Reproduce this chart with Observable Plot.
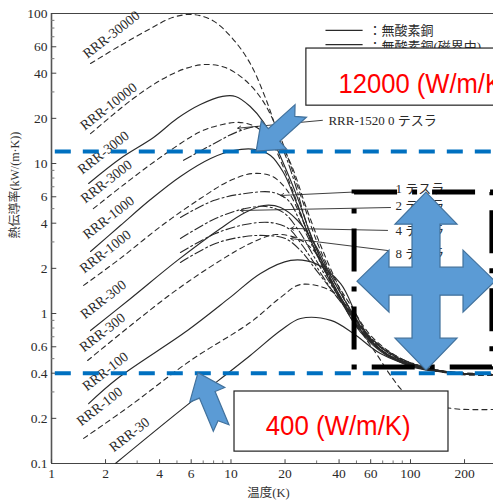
<!DOCTYPE html>
<html><head><meta charset="utf-8">
<script src="https://cdn.jsdelivr.net/npm/d3@7"></script>
<script src="https://cdn.jsdelivr.net/npm/@observablehq/plot@0.6"></script>
<style>html,body{margin:0;padding:0;background:#fff;overflow:hidden} svg{display:block}</style>
</head><body><div id="chart"></div>
<script>
// ---- tick values ----
const xTicks = [1, 2, 4, 6, 10, 20, 40, 60, 100, 200];
const yTicks = [0.1, 0.2, 0.4, 0.6, 1, 2, 4, 6, 10, 20, 40, 60, 100];
const xMinor = [3, 5, 7, 8, 9, 30, 50, 70, 80, 90];
const yMinor = [0.3, 0.5, 0.7, 0.8, 0.9, 3, 5, 7, 8, 9, 30, 50, 70, 80, 90];

// ---- curves: [temperature K, conductivity kW/(m·K)] ----
const rrr30000Dashed = [[1.65,46.4],[2.42,61.2],[3.56,79.4],[4.72,94],[6.1,98.5],[7.9,89.9],[10.2,68.1],[12.8,46.4],[15.6,27.1],[18.9,14.2],[22.3,9.0],[26,5.25],[31.6,2.84],[40.8,1.42],[52.8,0.77],[65.5,0.525],[77.5,0.386],[93.8,0.293],[121,0.255],[174,0.232],[290,0.229]];
const rrr10000Dashed = [[1.65,15.8],[2.76,26.3],[4.05,35.9],[5.58,43],[7.2,45.7],[9.3,43.6],[12.0,35.9],[15.0,26.3],[18.2,16.6],[21.5,9.7],[25,5.66],[29.9,3.07],[36.7,1.79],[46.5,1.13],[60,0.713],[82.5,0.525],[121,0.43],[190,0.392],[290,0.386]];
const rrr3000Solid = [[1.61,7.36],[2.42,10.8],[3.7,14.9],[5.03,20],[6.75,24.7],[8.97,28],[10.6,28],[12.8,24],[15.2,18.8],[17.7,13.2],[20.6,8.7],[23.8,5.66],[28.1,3.21],[34,1.94],[41.8,1.22],[54.1,0.747],[75.4,0.525],[114,0.437],[190,0.398],[290,0.392]];
const rrr3000Dashed = [[1.71,5.0],[2.58,7.36],[4.05,11.0],[6.75,16.3],[8.97,18.2],[11.0,18.8],[13.7,17.6],[16.6,14.2],[19.4,9.7],[22.6,6.1],[26.7,3.47],[32.3,2.09],[39.7,1.32],[51.3,0.794],[71.6,0.55],[111,0.443],[190,0.404],[290,0.398]];
const rrr1000Solid = [[1.65,2.59],[2.42,3.86],[3.56,5.75],[5.23,8.2],[7.7,10.8],[10.3,12.2],[13.7,12.4],[16.6,11.3],[19.6,8.7],[22.9,5.66],[27.4,3.21],[33.2,1.94],[40.8,1.22],[52.8,0.747],[73.5,0.525],[111,0.437],[190,0.398],[290,0.392]];
const rrr1000Dashed = [[1.51,1.54],[2.42,2.33],[4.05,3.8],[6.75,5.84],[9.9,7.7],[13.3,8.58],[17.0,8.2],[20.6,6.6],[24.4,4.5],[29.2,2.71],[36,1.66],[45.2,1.05],[58.3,0.69],[79.4,0.509],[121,0.43],[190,0.398],[290,0.392]];
const rrr300Solid = [[1.65,0.77],[2.76,1.26],[5.03,2.26],[8.74,3.69],[12.0,4.71],[15.2,5.25],[18.9,5.09],[23.5,4.17],[29.6,2.84],[36.7,1.71],[46.5,1.05],[58.3,0.69],[79.4,0.509],[121,0.43],[190,0.398],[290,0.392]];
const rrr300Dashed = [[1.59,0.486],[2.76,0.832],[4.91,1.42],[8.74,2.26],[12.8,2.93],[17.7,3.36],[23.5,3.16],[29.6,2.55],[37.2,1.66],[46.5,1.05],[60,0.69],[82.5,0.509],[126,0.43],[190,0.398],[290,0.392]];
const rrr100Solid = [[1.61,0.251],[2.33,0.369],[5.72,0.77],[9.9,1.28],[14.6,1.85],[21.5,2.26],[29.6,2.15],[40.8,1.58],[50.7,0.94],[62.2,0.63],[78,0.51],[104,0.437],[190,0.398],[290,0.392]];
const rrr100Dashed = [[1.51,0.147],[2.76,0.244],[5.95,0.486],[12.8,0.871],[18.9,1.28],[24.4,1.56],[36,1.42],[44.6,1.1],[54.7,0.736],[68,0.567],[107,0.443],[190,0.398],[290,0.392]];
const rrr30Solid = [[2.27,0.1],[5.23,0.226],[12.8,0.525],[18.9,0.77],[24.4,0.926],[36,0.9],[48.1,0.736],[68,0.541],[114,0.43],[190,0.398],[290,0.392]];
// RRR-1520 in magnetic field (dash-dot)
const field0T = [[5.44,10.5],[7.7,13.2],[10.9,16.3],[14.2,17.6],[17.7,15.8],[20.1,11.3],[22.9,7.13],[26.3,4.04],[31.6,2.33],[38.7,1.42],[50,0.832],[72.6,0.541],[114,0.437],[190,0.398],[290,0.392]];
const field1T = [[5.23,4.37],[8.0,5.66],[12.0,6.31],[17.2,6.41],[20.9,5.66],[24.4,4.04],[29.2,2.63],[36,1.61],[46.5,1.02],[60,0.68],[83.9,0.509],[126,0.43],[190,0.398],[290,0.392]];
const field2T = [[5.23,3.16],[8.2,4.3],[12.0,5.01],[15.6,5.17],[19.6,4.71],[23.8,3.58],[29.2,2.36],[36,1.56],[46.5,1.0],[60,0.68],[83.9,0.509],[126,0.43],[190,0.398],[290,0.392]];
const field4T = [[5.23,2.55],[8.2,3.41],[12,3.92],[16.6,4.04],[20.9,3.69],[25,2.84],[29.9,2.06],[36.7,1.42],[47.5,0.97],[61.6,0.67],[86.1,0.509],[129,0.43],[190,0.398],[290,0.392]];
const field8T = [[5.23,2.19],[8.2,2.93],[12,3.26],[15.6,3.31],[20.1,3.16],[24.4,2.63],[29.9,1.94],[37.2,1.38],[47.5,0.955],[61.6,0.66],[86.1,0.501],[129,0.43],[190,0.398],[290,0.392]];

// ---- labels ----
const rrrLabels = [
  {text: "RRR-30000", T: 2.27, k: 66},
  {text: "RRR-10000", T: 2.19, k: 21.9},
  {text: "RRR-3000", T: 2.05, k: 10.8},
  {text: "RRR-3000", T: 2.13, k: 6.92},
  {text: "RRR-1000", T: 2.19, k: 3.98},
  {text: "RRR-1000", T: 2.1, k: 2.36},
  {text: "RRR-300", T: 2.05, k: 1.13},
  {text: "RRR-300", T: 2.02, k: 0.681},
  {text: "RRR-100", T: 2.1, k: 0.375},
  {text: "RRR-100", T: 1.95, k: 0.219},
  {text: "RRR-30", T: 2.86, k: 0.142}
];
const fieldLabels = [
  {text: "RRR-1520 0 テスラ", T: 34.9, k: 19.4},
  {text: "1 テスラ", T: 82.5, k: 6.81},
  {text: "2 テスラ", T: 82.5, k: 5.25},
  {text: "4 テスラ", T: 82.5, k: 3.58},
  {text: "8 テスラ", T: 82.5, k: 2.51}
];
const pointers = [
  {T1: 32.3, k1: 19.4, T2: 10.9, k2: 17.2},
  {T1: 74.5, k1: 6.61, T2: 18.9, k2: 6.12},
  {T1: 77.4, k1: 5.09, T2: 11.3, k2: 4.86},
  {T1: 74.5, k1: 3.58, T2: 21.5, k2: 3.69},
  {T1: 74.5, k1: 2.63, T2: 21.5, k2: 3.16}
];
const legendItems = [
  {text: "：無酸素銅", T1: 33.6, T2: 54.1, k: 77.1, tx: 58.3, tk: 77.1, dash: null},
  {text: "：無酸素銅(磁界中)", T1: 33.6, T2: 54.1, k: 62.1, tx: 58.3, tk: 60.3, dash: "9,3,2,3"}
];
// ---- annotations ----
const refLevels = [12, 0.4];
const noteBoxes = [
  {T1: 26.3, T2: 400, k1: 24.3, k2: 58.4, text: "12000 (W/m/K)", tT: 39.7, tk: 34.1, len: 172},
  {T1: 10.46, T2: 162.8, k1: 0.120, k2: 0.302, text: "400 (W/m/K)", tT: 15.6, tk: 0.179, len: 145}
];
const focusBox = [{T1: 48.8, T2: 286, k1: 0.437, k2: 6.41}];
const arrowTips = [{T: 13.9, k: 12, angle: 138}, {T: 6.59, k: 0.4, angle: -112.7}];
const crossCenter = [{T: 122.8, k: 1.63}];

const ink = "#2a2a2a";
const solid = (data) => Plot.line(data, {x: d => d[0], y: d => d[1], stroke: ink, strokeWidth: 1.15, curve: "catmull-rom"});
const dashed = (data) => Plot.line(data, {x: d => d[0], y: d => d[1], stroke: ink, strokeWidth: 1.1, strokeDasharray: "5,4", curve: "catmull-rom"});
const dashdot = (data) => Plot.line(data, {x: d => d[0], y: d => d[1], stroke: ink, strokeWidth: 1.1, strokeDasharray: "9,3,2,3", curve: "catmull-rom"});

const serif = "'Liberation Serif','DejaVu Serif','Noto Sans CJK JP',serif";

const chart = Plot.plot({
  width: 493, height: 504,
  marginLeft: 51, marginRight: 0, marginTop: 13, marginBottom: 41,
  x: {type: "log", domain: [1, 290], axis: null},
  y: {type: "log", domain: [0.1, 100], axis: null},
  style: {fontFamily: serif, fontSize: "13px", background: "white", overflow: "hidden", color: ink},
  marks: [
    // frame
    Plot.ruleY([100], {stroke: "#444", strokeWidth: 1.2}),
    Plot.ruleY([0.1], {stroke: "#444", strokeWidth: 1.2}),
    Plot.ruleX([1], {stroke: "#555", strokeWidth: 1.6}),
    // inward ticks
    Plot.ruleX(xTicks, {x: d => d, y1: 0.1, y2: 0.106, stroke: "#444"}),
    Plot.ruleX(xMinor, {x: d => d, y1: 0.1, y2: 0.104, stroke: "#777"}),
    Plot.ruleY(yTicks, {y: d => d, x1: 1, x2: 1.07, stroke: "#444"}),
    Plot.ruleY(yMinor, {y: d => d, x1: 1, x2: 1.045, stroke: "#777"}),
    // tick labels
    Plot.text(xTicks, {x: d => d, frameAnchor: "bottom", dy: 14, text: d => String(d), fontSize: 13.5, fill: ink}),
    Plot.text(yTicks, {y: d => d, frameAnchor: "left", dx: -4, textAnchor: "end", text: d => String(d), fontSize: 13.5, fill: ink}),
    // axis titles
    Plot.text(["温度(K)"], {frameAnchor: "bottom", dy: 33, dx: -4, text: d => d, fontSize: 12.5, fill: "#333"}),
    Plot.text(["熱伝導率(kW/(m·K))"], {frameAnchor: "left", dx: -36, rotate: -90, text: d => d, fontSize: 12, fill: "#333"}),
    // curves
    dashed(rrr30000Dashed), dashed(rrr10000Dashed),
    solid(rrr3000Solid), dashed(rrr3000Dashed),
    solid(rrr1000Solid), dashed(rrr1000Dashed),
    solid(rrr300Solid), dashed(rrr300Dashed),
    solid(rrr100Solid), dashed(rrr100Dashed),
    solid(rrr30Solid),
    dashdot(field0T), dashdot(field1T), dashdot(field2T), dashdot(field4T), dashdot(field8T),
    // labels (sit just above their line)
    Plot.text(rrrLabels, {x: "T", y: "k", text: "text", rotate: -38, dx: -4, dy: -6, fontSize: 14, fill: ink}),
    Plot.arrow(pointers, {x1: "T1", y1: "k1", x2: "T2", y2: "k2", stroke: ink, strokeWidth: 0.9, headLength: 6}),
    Plot.text(fieldLabels, {x: "T", y: "k", text: "text", textAnchor: "start", fontSize: 13, fill: ink}),
    // legend
    Plot.link(legendItems, {x1: "T1", x2: "T2", y1: "k", y2: "k", stroke: ink, strokeWidth: 1.2, strokeDasharray: d => d.dash}),
    Plot.text(legendItems, {x: "tx", y: "tk", text: "text", textAnchor: "start", fontSize: 13, fill: ink}),
    // blue reference lines
    Plot.ruleY(refLevels, {y: d => d, x1: 1.05, x2: 290, stroke: "#0070C0", strokeWidth: 4, strokeDasharray: "16,12"}),
    // annotation boxes
    Plot.rect(noteBoxes, {x1: "T1", x2: "T2", y1: "k1", y2: "k2", fill: "white", stroke: "#222", strokeWidth: 1.2}),
    Plot.text(noteBoxes, {x: "tT", y: "tk", text: "text", textAnchor: "start", fill: "#FF0000", fontSize: 28, fontFamily: "'Liberation Sans',Arial,sans-serif"}),
    Plot.rect(focusBox, {x1: "T1", x2: "T2", y1: "k1", y2: "k2", fill: "none", stroke: "black", strokeWidth: 5, strokeDasharray: "43,15,5,15"})
  ]
});

document.getElementById("chart").appendChild(chart);

// compress the big red annotation texts to the reference width
d3.select(chart).selectAll("text").each(function () {
  const t = this.textContent;
  const box = noteBoxes.find(b => b.text === t);
  if (box) d3.select(this).attr("textLength", box.len).attr("lengthAdjust", "spacingAndGlyphs");
});

// blue block arrows, placed through the plot's scales
const sx = chart.scale("x"), sy = chart.scale("y");
const X = d3.scaleLog(sx.domain, sx.range), Y = d3.scaleLog(sy.domain, sy.range);
const layer = d3.select(chart).append("g");
const arrowFill = "#5B9BD5", arrowStroke = "#41719C";
const A = {L: 60, head: 24, headW: 38, shaftW: 17, notch: 8};
arrowTips.forEach(a => {
  const tx = X(a.T), ty = Y(a.k);
  const r = a.angle * Math.PI / 180;
  const u = [Math.cos(r), Math.sin(r)], v = [-Math.sin(r), Math.cos(r)];
  const tail = [tx - A.L * u[0], ty - A.L * u[1]];
  const local = [[0, A.shaftW/2], [A.L - A.head, A.shaftW/2], [A.L - A.head, A.headW/2], [A.L, 0],
                 [A.L - A.head, -A.headW/2], [A.L - A.head, -A.shaftW/2], [0, -A.shaftW/2], [A.notch, 0]];
  const pts = local.map(([p, q]) => [tail[0] + p*u[0] + q*v[0], tail[1] + p*u[1] + q*v[1]]);
  layer.append("path").attr("d", "M" + pts.map(p => p.join(",")).join("L") + "Z")
    .attr("fill", arrowFill).attr("stroke", arrowStroke).attr("stroke-width", 1.2);
});
const Q = {hx: 69, hy: 89, lh: 32, hw: 31, sw: 14};
crossCenter.forEach(c => {
  const cx = X(c.T), cy = Y(c.k);
  const {hx, hy, lh, hw, sw} = Q;
  const pts = [
    [0,-hy],[hw,-hy+lh],[sw,-hy+lh],[sw,-sw],[hx-lh,-sw],[hx-lh,-hw],[hx,0],[hx-lh,hw],[hx-lh,sw],[sw,sw],
    [sw,hy-lh],[hw,hy-lh],[0,hy],[-hw,hy-lh],[-sw,hy-lh],[-sw,sw],[-hx+lh,sw],[-hx+lh,hw],[-hx,0],[-hx+lh,-hw],
    [-hx+lh,-sw],[-sw,-sw],[-sw,-hy+lh],[-hw,-hy+lh]
  ].map(([p, q]) => [cx + p, cy + q]);
  layer.append("path").attr("d", "M" + pts.map(p => p.join(",")).join("L") + "Z")
    .attr("fill", arrowFill).attr("stroke", arrowStroke).attr("stroke-width", 1.2);
});
</script></body></html>
